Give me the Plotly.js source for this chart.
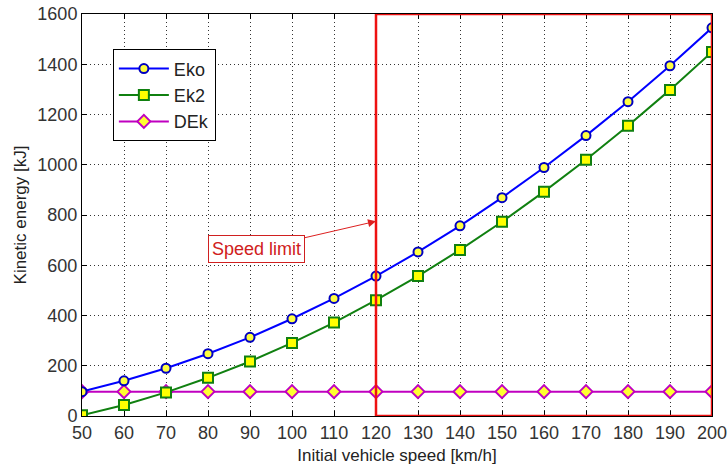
<!DOCTYPE html>
<html><head><meta charset="utf-8">
<script src="https://cdn.plot.ly/plotly-3.0.1.min.js"></script>
<style>html,body{margin:0;padding:0;background:#fff}#c{width:728px;height:469px}</style>
</head><body><div id="c"></div>
<script>
const speed = [50,60,70,80,90,100,110,120,130,140,150,160,170,180,190,200];
const Eko = [97,140,190,248,313,387,468,557,653,757,869,989,1116,1251,1394,1545];
const Ek2 = [3,44,94,152,217,291,372,461,557,661,773,893,1020,1155,1298,1449];
const DEk = [97,97,97,97,97,97,97,97,97,97,97,97,97,97,97,97];
const xTicks = [50,60,70,80,90,100,110,120,130,140,150,160,170,180,190,200];
const yTicks = [0,200,400,600,800,1000,1200,1400,1600];
const limitX = [120,200];
const limitLabel = "Speed limit";

const FONT = 'Arial, Liberation Sans, sans-serif';
const traces = [
  {x:speed,y:DEk,name:'DEk',mode:'lines+markers',line:{color:'#c000c0',width:2},
   marker:{symbol:'diamond',size:10,color:'#ffff30',line:{color:'#c000c0',width:2}}},
  {x:speed,y:Ek2,name:'Ek2',mode:'lines+markers',line:{color:'#108010',width:2},
   marker:{symbol:'square',size:10,color:'#ffff00',line:{color:'#108010',width:2}}},
  {x:speed,y:Eko,name:'Eko',mode:'lines+markers',line:{color:'#0000ff',width:2},
   marker:{symbol:'circle',size:9,color:'#ffff40',line:{color:'#0000c0',width:2}}}
];
const axisCommon = {showline:true,mirror:'ticks',linecolor:'#000',linewidth:1,ticks:'inside',ticklen:5,
  tickcolor:'#000',showgrid:true,gridcolor:'#333',griddash:'1px,3px',gridwidth:1,zeroline:false,
  tickfont:{family:FONT,size:18,color:'#333'}};
const layout = {
  width:728,height:469,margin:{l:82,r:16,t:14,b:53},paper_bgcolor:'#fff',plot_bgcolor:'#fff',
  showlegend:true,
  legend:{x:0.049,y:0.912,xanchor:'left',yanchor:'top',bgcolor:'#fff',bordercolor:'#000',borderwidth:1,
    traceorder:'reversed',itemwidth:50,font:{family:FONT,size:18,color:'#222'},tracegroupgap:0},
  xaxis:Object.assign({},axisCommon,{range:[50,200],tickvals:xTicks,ticktext:xTicks.map(String),
    title:{text:'Initial vehicle speed [km/h]',font:{family:FONT,size:17,color:'#222'},standoff:7}}),
  yaxis:Object.assign({},axisCommon,{range:[0,1600],tickvals:yTicks,ticktext:yTicks.map(String),
    title:{text:'Kinetic energy [kJ]',font:{family:FONT,size:17,color:'#222'},standoff:6}}),
  shapes:[{type:'rect',xref:'x',yref:'y',x0:limitX[0],x1:limitX[1],y0:0,y1:1600,
    line:{color:'#ee1111',width:2.5},fillcolor:'rgba(0,0,0,0)',layer:'above'}],
  annotations:[{x:limitX[0],y:775,xref:'x',yref:'y',ax:91.5,ay:665,axref:'x',ayref:'y',
    text:limitLabel,showarrow:true,arrowhead:2,arrowsize:1.6,arrowwidth:1,arrowcolor:'#dd2020',
    font:{family:FONT,size:18,color:'#d02020'},
    bgcolor:'#fff',bordercolor:'#d02020',borderwidth:1,borderpad:3,standoff:0}]
};
Plotly.newPlot('c',traces,layout,{displayModeBar:false,staticPlot:true});
</script></body></html>
